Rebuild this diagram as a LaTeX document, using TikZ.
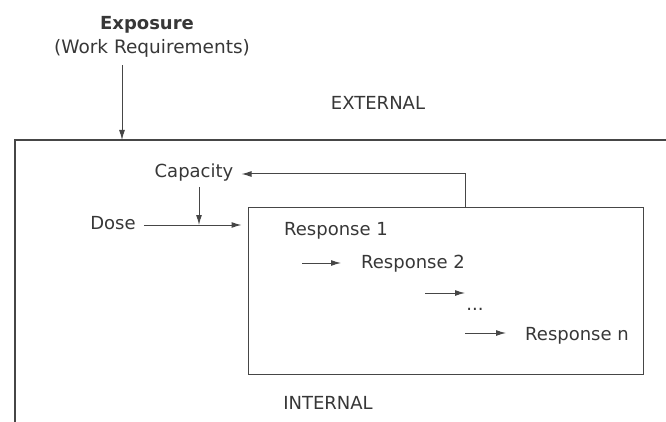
\documentclass[tikz,border=0pt]{standalone}
\usepackage{fontspec}
\setmainfont{DejaVu Sans}
\usetikzlibrary{arrows.meta, positioning}
\definecolor{inkcolor}{RGB}{55,55,55}
\definecolor{linecolor}{RGB}{70,70,70}
\tikzset{
  lbl/.style    = {font=\fontsize{18}{21}\selectfont, text=inkcolor, inner sep=2pt},
  arrow/.style  = {-{Latex[length=10pt, width=6pt]}, line width=1pt, color=linecolor},
  frame/.style  = {line width=1.4pt, color=linecolor},
  inbox/.style  = {draw=linecolor, line width=1pt, minimum width=395pt, minimum height=167pt,
                   inner sep=0pt},
}

\begin{document}
\begin{tikzpicture}[x=1pt, y=-1pt]
  \useasboundingbox (0,0) rectangle (666,422);
  % outer boundary (open to the right and below)
  \coordinate (hit) at (122,140);
  \draw[frame] (666,140) -- (15,140) -- (15,422);
  \node[lbl] at (378,103) {EXTERNAL};
  \node[lbl] at (328,403) {INTERNAL};

  % exposure coming in from outside
  \node[lbl, font=\bfseries\fontsize{18}{21}\selectfont] (exposure) at (147,25) {Exposure};
  \node[lbl, font=\fontsize{18.5}{21}\selectfont] (work) at (152,48) {(Work Requirements)};
  \draw[arrow] (work.south -| hit) ++(0,6) -- (hit);

  % inner system
  \node[inbox] (inner) at (445.5,290.5) {};
  \node[lbl] (capacity) at (194,173) {Capacity};
  \node[lbl] (dose) at (113,223) {Dose};
  \coordinate (join) at (199,225);
  \draw[arrow] (dose.east |- join) ++(6,0) -- ([xshift=-6pt]join -| inner.west);
  \draw[arrow] (capacity.south -| join) ++(0,3) -- (join);
  \draw[arrow] (inner.north -| 465,0) -- (465,174) -- ([xshift=6pt]capacity.east |- 0,174);

  % chain of responses
  \node[lbl] (r1) at (336,231) {Response 1};
  \node[lbl] (r2) at (413,264) {Response 2};
  \node[lbl] (dots) at (475,309) {...};
  \node[lbl] (rn) at (577,336) {Response n};
  \coordinate (a1) at (302,263);
  \coordinate (a2) at (425,293);
  \coordinate (a3) at (465,333);
  \draw[arrow] (a1) -- ++(39,0);
  \draw[arrow] (a2) -- ++(40,0);
  \draw[arrow] (a3) -- ++(41,0);
\end{tikzpicture}
\end{document}
